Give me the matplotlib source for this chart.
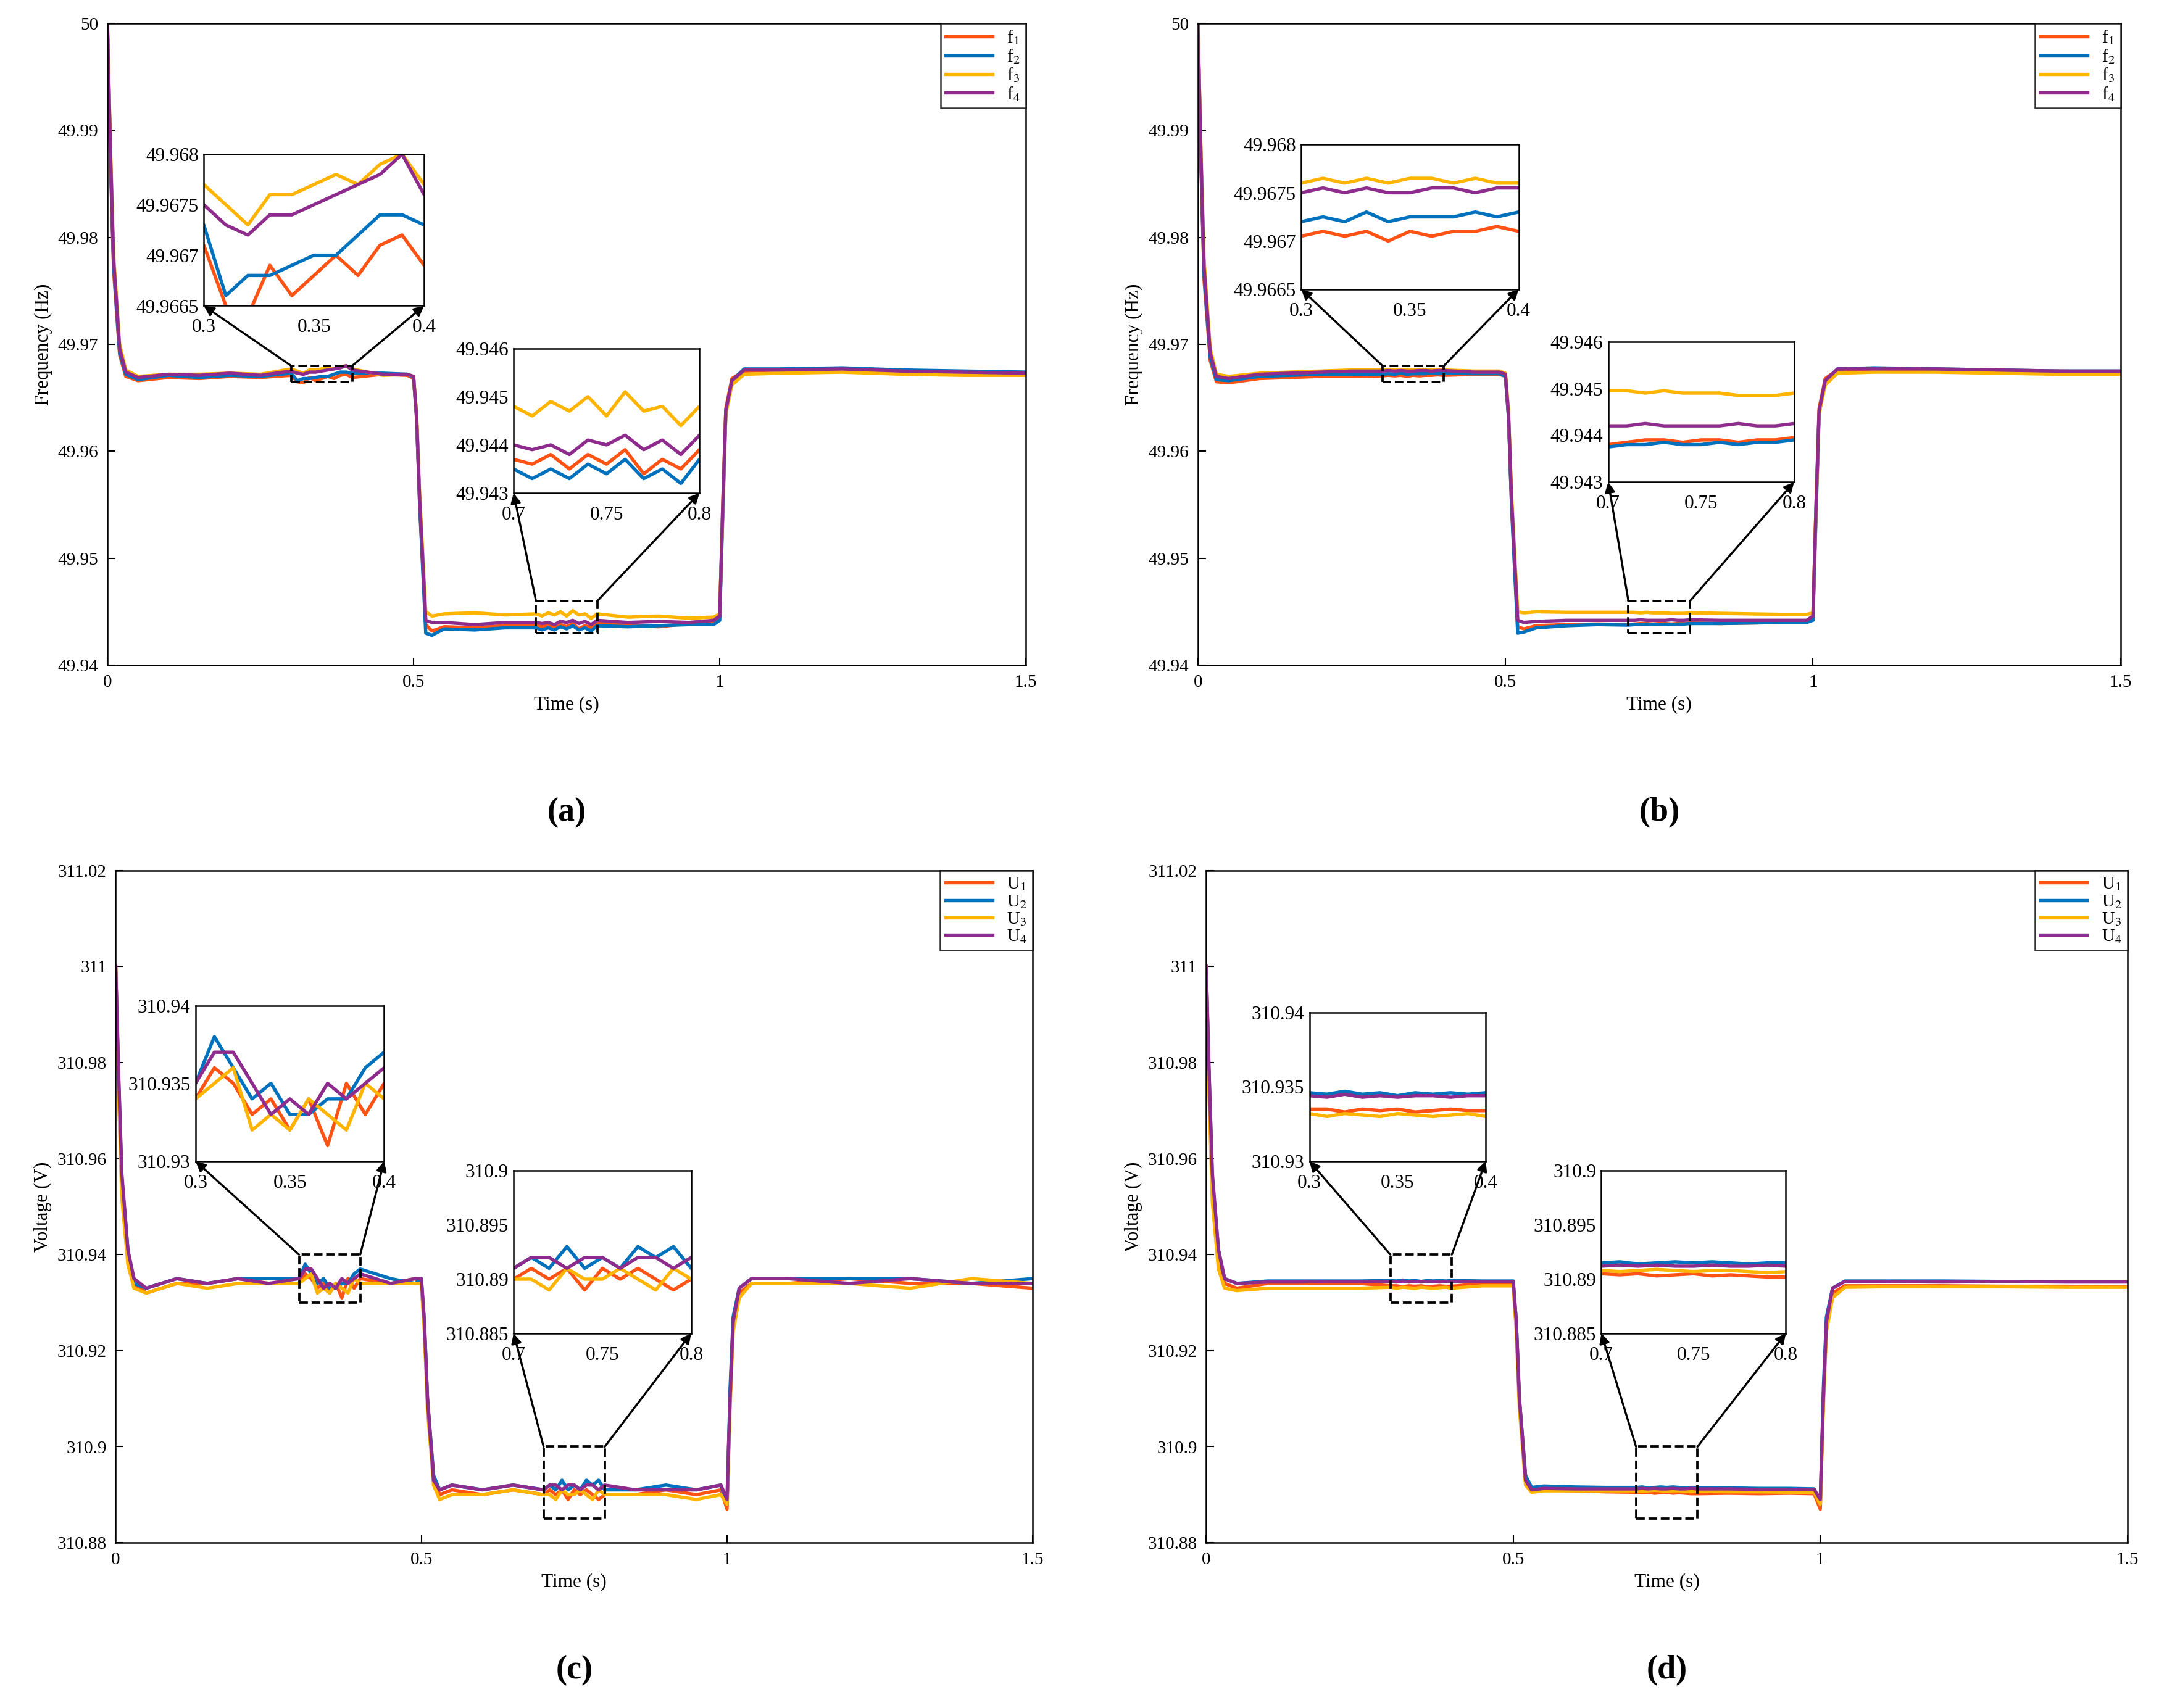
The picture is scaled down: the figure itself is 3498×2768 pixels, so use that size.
import numpy as np
import matplotlib.pyplot as plt
from matplotlib.patches import Rectangle, ConnectionPatch

plt.rcParams['font.family'] = ['Liberation Serif', 'DejaVu Serif']
plt.rcParams['mathtext.fontset'] = 'stix'

# shared time grid (s)
T = [0, .005, .01, .02, .03, .05, .1, .15, .2, .25,
     .3, .31, .32, .33, .34, .35, .36, .37, .38, .39, .4,
     .45, .49, .5, .505, .51, .52, .53, .55, .6, .65,
     .7, .71, .72, .73, .74, .75, .76, .77, .78, .79, .8,
     .85, .9, .95, .99, 1.0, 1.005, 1.01, 1.02, 1.04, 1.1, 1.2, 1.3, 1.4, 1.5]

# (a) frequency, units of 1e-4 Hz above 49.94
A1 = [600, 470, 370, 290, 270, 266, 269, 268, 270, 269,
      271, 265, 264, 269, 266, 268, 270, 268, 271, 272, 269,
      272, 271, 268, 230, 150, 38, 32, 36, 35, 37,
      37, 36, 38, 35, 38, 36, 39, 34, 37, 35, 39,
      38, 36, 39, 40, 45, 150, 240, 268, 275, 276, 277, 275, 274, 273]
A2 = [600, 475, 375, 292, 272, 267, 271, 269, 271, 270,
      273, 266, 268, 268, 269, 270, 270, 272, 274, 274, 273,
      273, 272, 269, 232, 150, 30, 28, 34, 33, 35,
      35, 33, 35, 33, 36, 34, 37, 33, 35, 32, 37,
      36, 37, 38, 38, 42, 140, 235, 266, 277, 277, 278, 276, 275, 274]
A3 = [600, 485, 385, 300, 276, 270, 272, 272, 273, 272,
      277, 275, 273, 276, 276, 277, 278, 277, 279, 280, 277,
      271, 272, 270, 235, 160, 50, 46, 48, 49, 47,
      48, 46, 49, 47, 50, 46, 51, 47, 48, 44, 48,
      45, 46, 44, 45, 48, 145, 235, 262, 272, 273, 274, 272, 271, 271]
A4 = [600, 480, 380, 296, 274, 269, 272, 271, 273, 271,
      275, 273, 272, 274, 274, 275, 276, 277, 278, 280, 276,
      272, 272, 270, 233, 155, 42, 40, 40, 38, 40,
      40, 39, 40, 38, 41, 40, 42, 39, 41, 38, 42,
      40, 41, 40, 42, 46, 148, 238, 266, 276, 276, 277, 275, 274, 273]

# (b) frequency, units of 1e-4 Hz above 49.94
B1 = [600, 465, 360, 285, 265, 264, 268, 269, 270, 270,
      270.5, 271, 270.5, 271, 270, 271, 270.5, 271, 271, 271.5, 271,
      272, 272, 270, 232, 150, 36, 34, 37, 38, 38.5,
      38, 38.5, 39, 39, 38.5, 39, 39, 38.5, 39, 39, 39.5,
      39, 39.5, 40, 40, 44, 150, 240, 268, 276, 277, 276, 275, 275, 274]
B2 = [600, 470, 365, 288, 267, 266, 270, 271, 272, 272,
      272, 272.5, 272, 273, 272, 272.5, 272.5, 272.5, 273, 272.5, 273,
      272.5, 272.5, 270, 232, 148, 30, 31, 35, 37, 38,
      37.5, 38, 38, 38.5, 38, 38, 38.5, 38, 38.5, 38.5, 39,
      39, 39.5, 40, 40, 42, 140, 235, 266, 277, 278, 277, 276, 275, 275]
B3 = [600, 480, 380, 296, 272, 270, 273, 274, 275, 276,
      276, 276.5, 276, 276.5, 276, 276.5, 276.5, 276, 276.5, 276, 276,
      275, 275, 273, 238, 160, 50, 49, 50, 49.5, 49.5,
      49.5, 49.5, 49, 49.5, 49, 49, 49, 48.5, 48.5, 48.5, 49,
      48.5, 48, 47.5, 47.5, 49, 145, 235, 262, 273, 274, 274, 273, 272, 272]
B4 = [600, 475, 372, 292, 270, 268, 272, 273, 274, 275,
      275, 275.5, 275, 275.5, 275, 275, 275.5, 275.5, 275, 275.5, 275.5,
      274, 274, 272, 235, 155, 42, 40, 41, 42, 42,
      42, 42, 42.5, 42, 42, 42, 42, 42.5, 42, 42, 42.5,
      42, 42, 42, 42, 46, 148, 238, 266, 277, 277, 277, 276, 275, 275]

# (c) voltage, units of 1e-3 V above 310.88
C1 = [120, 94, 74, 60, 54, 52, 54, 54, 55, 54,
      54, 56, 55, 53, 54, 52, 54, 51, 55, 53, 55,
      54, 55, 54, 45, 30, 14, 10, 11, 10, 11,
      10, 11, 10, 11, 9, 11, 10, 11, 10, 9, 10,
      10, 11, 10, 11, 7, 30, 45, 52, 54, 54, 55, 54, 54, 53]
C2 = [120, 96, 76, 61, 54, 53, 55, 54, 55, 55,
      55, 58, 56, 54, 55, 53, 53, 54, 54, 56, 57,
      55, 54, 55, 46, 30, 14, 11, 12, 11, 12,
      11, 12, 11, 13, 11, 12, 11, 13, 12, 13, 11,
      11, 12, 11, 12, 8, 32, 47, 53, 55, 55, 55, 55, 54, 55]
C3 = [120, 93, 72, 58, 53, 52, 54, 53, 54, 54,
      54, 55, 56, 52, 53, 52, 54, 53, 52, 55, 54,
      54, 54, 54, 44, 28, 12, 9, 10, 10, 11,
      10, 10, 9, 11, 10, 10, 11, 10, 9, 11, 10,
      10, 10, 9, 10, 8, 28, 44, 51, 54, 54, 54, 53, 55, 54]
C4 = [120, 97, 77, 61, 55, 53, 55, 54, 55, 54,
      55, 57, 57, 55, 53, 54, 53, 55, 54, 55, 56,
      54, 55, 55, 46, 30, 13, 11, 12, 11, 12,
      11, 12, 12, 11, 12, 12, 11, 12, 12, 11, 12,
      11, 11, 11, 12, 9, 30, 46, 53, 55, 55, 54, 55, 54, 54]

# (d) voltage, units of 1e-3 V above 310.88
D1 = [120, 94, 74, 60, 54, 53, 54, 54, 54, 54,
      53.5, 53.5, 53.3, 53.5, 53.4, 53.5, 53.3, 53.4, 53.5, 53.4, 53.4,
      54, 54, 54, 45, 30, 14, 11, 11, 10.8, 10.6,
      10.5, 10.4, 10.5, 10.3, 10.4, 10.5, 10.3, 10.4, 10.3, 10.2, 10.2,
      10.3, 10.2, 10.3, 10.2, 7, 30, 45, 52, 53.5, 53.5, 53.5, 53.4, 53.4, 53.3]
D2 = [120, 96, 76, 61, 55, 54, 54.5, 54.5, 54.5, 54.5,
      54.6, 54.5, 54.7, 54.5, 54.6, 54.4, 54.6, 54.5, 54.6, 54.5, 54.6,
      54.5, 54.5, 54.5, 46, 30, 14, 11.5, 11.8, 11.6, 11.5,
      11.5, 11.6, 11.4, 11.5, 11.6, 11.5, 11.6, 11.5, 11.4, 11.5, 11.5,
      11.4, 11.3, 11.3, 11.2, 8, 32, 47, 53, 54.5, 54.5, 54.5, 54.4, 54.4, 54.4]
D3 = [120, 92, 71, 57, 53, 52.5, 53, 53, 53, 53,
      53.2, 53, 53.2, 53.1, 53, 53.2, 53.1, 53, 53.1, 53.2, 53,
      53.5, 53.5, 53.5, 44, 28, 12, 10.5, 10.8, 10.8, 10.8,
      10.8, 10.7, 10.8, 10.9, 10.8, 10.7, 10.8, 10.8, 10.7, 10.6, 10.7,
      10.6, 10.6, 10.5, 10.5, 8, 28, 44, 51, 53.2, 53.3, 53.3, 53.3, 53.2, 53.2]
D4 = [120, 97, 77, 61, 55, 54, 54.3, 54.3, 54.4, 54.4,
      54.4, 54.3, 54.5, 54.3, 54.4, 54.3, 54.4, 54.4, 54.3, 54.4, 54.4,
      54.4, 54.4, 54.4, 46, 30, 13, 11, 11.3, 11.2, 11.2,
      11.2, 11.3, 11.2, 11.3, 11.2, 11.2, 11.3, 11.2, 11.2, 11.3, 11.2,
      11.2, 11.1, 11.1, 11.1, 9, 30, 46, 53, 54.4, 54.4, 54.3, 54.4, 54.3, 54.3]

COLORS = ['#FF5215', '#0072BD', '#FFB400', '#8E2C8E']

t = np.array(T)
fig = plt.figure(figsize=(11.66, 9.227), dpi=300)


def draw_panel(rect, series, base, unit, sym, ylim, yticks, ylabels, ylab,
               letter, letter_y, ins_rects, ins_info):
    ax = fig.add_axes(rect)
    for s, c, i in zip(series, COLORS, range(4)):
        ax.plot(t, base + np.array(s) * unit, color=c, lw=1.3,
                label=sym + '$_{%d}$' % (i + 1))
    ax.set_xlim(0, 1.5)
    ax.set_ylim(*ylim)
    ax.set_xticks([0, 0.5, 1, 1.5])
    ax.set_xticklabels(['0', '0.5', '1', '1.5'])
    ax.set_yticks(yticks)
    ax.set_yticklabels(ylabels)
    ax.tick_params(direction='in', labelsize=7, length=3, width=0.5)
    for sp in ax.spines.values():
        sp.set_linewidth(0.6)
    ax.set_xlabel('Time (s)', fontsize=7.5, labelpad=2)
    ax.set_ylabel(ylab, fontsize=7.5, labelpad=2)
    leg = ax.legend(loc='upper right', fontsize=7, fancybox=False,
                    edgecolor='black', handlelength=2.6, labelspacing=0.05,
                    borderpad=0.3, borderaxespad=0)
    leg.get_frame().set_linewidth(0.6)
    fig.text(rect[0] + rect[2] / 2, letter_y, '(' + letter + ')',
             ha='center', va='center', fontsize=13, fontweight='bold')

    for (x0, x1), irect, (iy, iticks, ilabels) in zip(
            [(0.3, 0.4), (0.7, 0.8)], ins_rects, ins_info):
        ax.add_patch(Rectangle((x0, iy[0]), x1 - x0, iy[1] - iy[0],
                               fill=False, ls='--', lw=0.9, ec='black',
                               zorder=5))
        ins = fig.add_axes(irect)
        for s, c in zip(series, COLORS):
            ins.plot(t, base + np.array(s) * unit, color=c, lw=1.3)
        ins.set_xlim(x0, x1)
        ins.set_ylim(*iy)
        mid = (x0 + x1) / 2
        ins.set_xticks([x0, mid, x1])
        ins.set_xticklabels(['%g' % x0, '%g' % mid, '%g' % x1])
        ins.set_yticks(iticks)
        ins.set_yticklabels(ilabels)
        ins.tick_params(direction='in', labelsize=7.5, length=0, pad=2)
        ins.tick_params(axis='x', pad=5)
        for sp in ins.spines.values():
            sp.set_linewidth(0.6)
        for xa, xb in [(x0, 0), (x1, 1)]:
            con = ConnectionPatch(xyA=(xa, iy[1]), coordsA=ax.transData,
                                  xyB=(xb, 0), coordsB=ins.transAxes,
                                  arrowstyle='-|>', lw=0.8, color='black',
                                  mutation_scale=8)
            fig.add_artist(con)


W, H = 1568, 1240


def fr(x0, x1, y0, y1):
    return [x0 / W, 1 - y1 / H, (x1 - x0) / W, (y1 - y0) / H]


fticks = [49.94, 49.95, 49.96, 49.97, 49.98, 49.99, 50]
flabels = ['49.94', '49.95', '49.96', '49.97', '49.98', '49.99', '50']
f_ins = [((49.9665, 49.968), [49.9665, 49.967, 49.9675, 49.968],
          ['49.9665', '49.967', '49.9675', '49.968']),
         ((49.943, 49.946), [49.943, 49.944, 49.945, 49.946],
          ['49.943', '49.944', '49.945', '49.946'])]
vticks = [310.88, 310.9, 310.92, 310.94, 310.96, 310.98, 311, 311.02]
vlabels = ['310.88', '310.9', '310.92', '310.94', '310.96', '310.98', '311',
           '311.02']
v_ins = [((310.93, 310.94), [310.93, 310.935, 310.94],
          ['310.93', '310.935', '310.94']),
         ((310.885, 310.9), [310.885, 310.89, 310.895, 310.9],
          ['310.885', '310.89', '310.895', '310.9'])]

draw_panel(fr(78, 745, 17, 483), [A1, A2, A3, A4], 49.94, 1e-4, 'f',
           (49.94, 50), fticks, flabels, 'Frequency (Hz)', 'a', 0.524,
           [fr(148, 308, 112, 222), fr(373, 508, 253, 358)], f_ins)
draw_panel(fr(870, 1540, 17, 483), [B1, B2, B3, B4], 49.94, 1e-4, 'f',
           (49.94, 50), fticks, flabels, 'Frequency (Hz)', 'b', 0.524,
           [fr(945, 1103, 105, 210), fr(1168, 1303, 248, 350)], f_ins)
draw_panel(fr(84, 750, 632, 1120), [C1, C2, C3, C4], 310.88, 1e-3, 'U',
           (310.88, 311.02), vticks, vlabels, 'Voltage (V)', 'c', 0.022,
           [fr(142, 279, 730, 843), fr(373, 502, 850, 968)], v_ins)
draw_panel(fr(876, 1545, 632, 1120), [D1, D2, D3, D4], 310.88, 1e-3, 'U',
           (310.88, 311.02), vticks, vlabels, 'Voltage (V)', 'd', 0.022,
           [fr(951, 1079, 735, 843), fr(1163, 1297, 850, 968)], v_ins)

fig.savefig('out.png', dpi=300)
